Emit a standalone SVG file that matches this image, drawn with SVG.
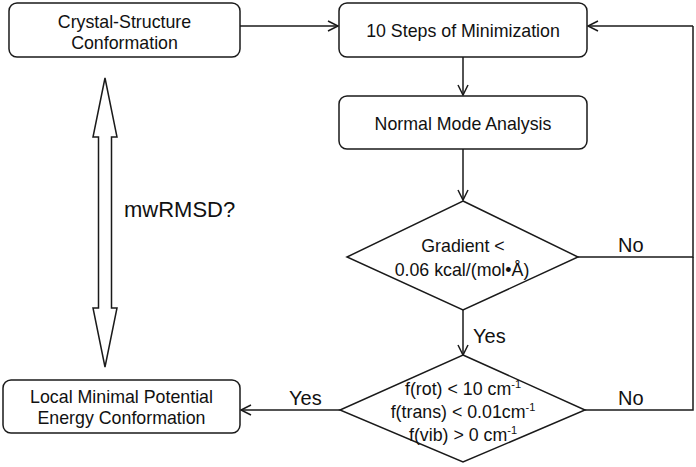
<svg xmlns="http://www.w3.org/2000/svg" width="696" height="467" viewBox="0 0 696 467">
<style>
.box{fill:#fff;stroke:#1a1a1a;stroke-width:1.5}
.ln{fill:none;stroke:#1a1a1a;stroke-width:1.5}
.t{font-family:"Liberation Sans",Arial,sans-serif;font-size:17.8px;fill:#111;text-anchor:middle}
.lb{font-family:"Liberation Sans",Arial,sans-serif;font-size:20px;fill:#111}
.sup{font-size:11px}
</style>
<defs>
<marker id="open" markerWidth="14" markerHeight="14" refX="12" refY="7" orient="auto" markerUnits="userSpaceOnUse">
<path d="M2,2 L12,7 L2,12" fill="none" stroke="#1a1a1a" stroke-width="1.5"/>
</marker>
</defs>
<rect width="696" height="467" fill="#fff"/>
<g id="connectors">
<line class="ln" x1="240" y1="26" x2="338" y2="26" marker-end="url(#open)"/>
<line class="ln" x1="463" y1="57" x2="463" y2="95" marker-end="url(#open)"/>
<line class="ln" x1="463" y1="149" x2="463" y2="200" marker-end="url(#open)"/>
<line class="ln" x1="463" y1="310" x2="463" y2="355" marker-end="url(#open)"/>
<polyline class="ln" points="578,257 693,257 693,26"/>
<polyline class="ln" points="585,410 693,410 693,257"/>
<line class="ln" x1="693" y1="26" x2="588" y2="26" marker-end="url(#open)"/>
<line class="ln" x1="340" y1="410" x2="241" y2="410" marker-end="url(#open)"/>
<path class="ln" d="M105,78 L117,137 L111.5,137 L111.5,308 L117,308 L105,367 L93,308 L98.5,308 L98.5,137 L93,137 Z"/>
<text class="lb" x="473" y="343">Yes</text>
<text class="lb" x="618" y="252">No</text>
<text class="lb" x="618" y="405">No</text>
<text class="lb" x="289" y="405">Yes</text>
<text class="lb" x="124" y="217" style="font-size:22px">mwRMSD?</text>
</g>
<g id="crystal">
<rect class="box" x="9" y="3" width="231" height="54" rx="8"/>
<text class="t" x="124.5" y="27.5">Crystal-Structure</text>
<text class="t" x="124.5" y="48.5">Conformation</text>
</g>
<g id="minimization">
<rect class="box" x="339" y="3" width="248" height="54" rx="8"/>
<text class="t" x="463" y="36.5">10 Steps of Minimization</text>
</g>
<g id="nma">
<rect class="box" x="339" y="96" width="248" height="53" rx="8"/>
<text class="t" x="463" y="129.5">Normal Mode Analysis</text>
</g>
<g id="gradient">
<polygon class="box" points="463,201 578,257 463,310 347,257"/>
<text class="t" x="463" y="252">Gradient &lt;</text>
<text class="t" x="462" y="276">0.06 kcal/(mol•Å)</text>
</g>
<g id="freq">
<polygon class="box" points="463,355 585,410 463,462 340,410"/>
<text class="t" x="463" y="395">f(rot) &lt; 10 cm<tspan class="sup" dy="-7">-1</tspan></text>
<text class="t" x="463" y="418">f(trans) &lt; 0.01cm<tspan class="sup" dy="-7">-1</tspan></text>
<text class="t" x="463" y="441">f(vib) &gt; 0 cm<tspan class="sup" dy="-7">-1</tspan></text>
</g>
<g id="local">
<rect class="box" x="3" y="380" width="237" height="53" rx="8"/>
<text class="t" x="121.5" y="403">Local Minimal Potential</text>
<text class="t" x="121.5" y="424">Energy Conformation</text>
</g>
</svg>
